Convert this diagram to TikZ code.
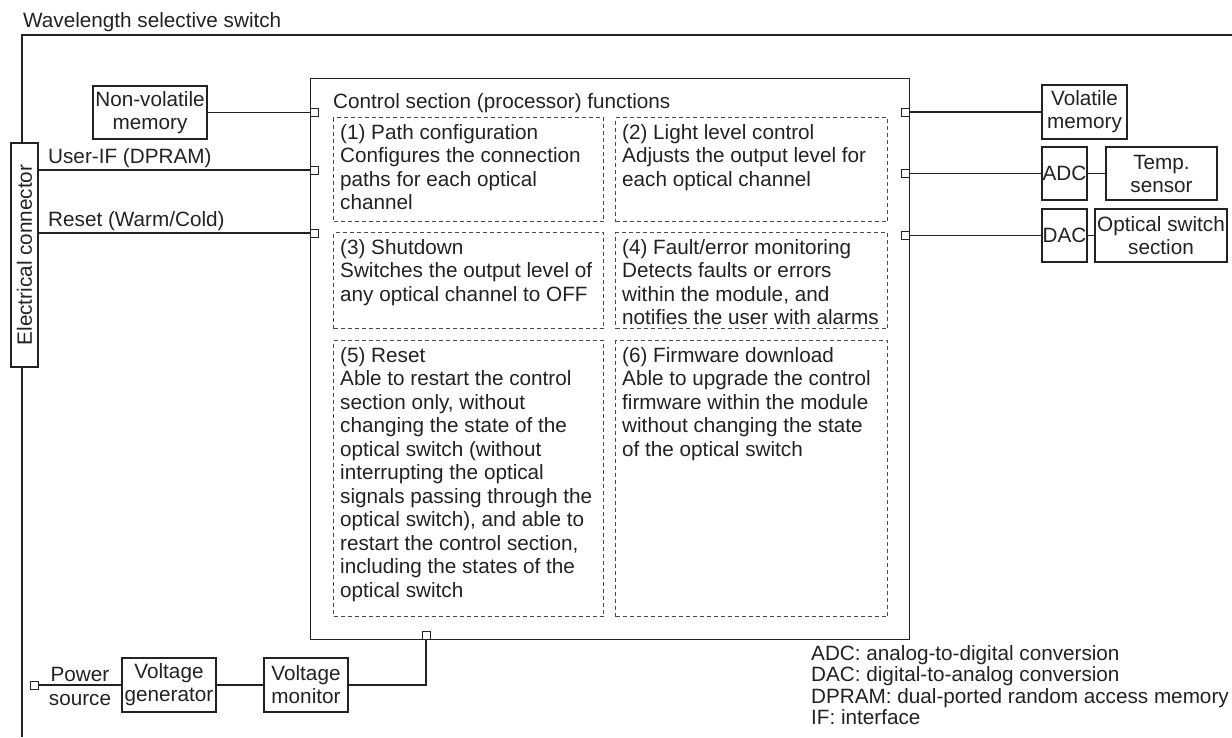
\documentclass[tikz,border=0pt]{standalone}
\usepackage{fontspec}
\setmainfont{Liberation Sans}
\definecolor{ink}{HTML}{222222}
\definecolor{dashink}{HTML}{4A4A4A}
\begin{document}
\begin{tikzpicture}[x=1pt,y=-1pt,
  every node/.style={font=\fontsize{20.7}{23.5}\selectfont, text=ink},
  wire/.style={draw=ink, line width=1.2pt},
  blk/.style={draw=ink, line width=1.2pt, fill=white, inner sep=0pt, align=center,
              font=\fontsize{20.7}{23}\selectfont},
  port/.style={draw=ink, line width=0.9pt, fill=white, minimum size=8pt, inner sep=0pt},
  fbox/.style={draw=dashink, line width=1pt, dash pattern=on 4pt off 3pt,
               inner sep=0pt, anchor=north west},
  ftext/.style={anchor=north west, inner sep=0pt, align=left,
                execute at begin node={\rule{0pt}{17pt}}},
  lbl/.style={anchor=base west, inner sep=0pt}
]
\useasboundingbox (0,0) rectangle (1232,737);

% outer module frame
\draw[wire] (1232,35) -- (22,35) -- (22,737);
\node[lbl] (title) at (23,27) {Wavelength selective switch};

% electrical connector
\node[blk, minimum width=27pt, minimum height=224pt] (conn) at (24.5,255) {};
\node[rotate=90, inner sep=0pt] (conntext) at (conn.center) {Electrical connector};

% non-volatile memory
\node[blk, minimum width=114pt, minimum height=53pt] (nvm) at (150,112.5) {Non-volatile\\memory};

% control section
\node[draw=ink, line width=1.2pt, minimum width=599pt, minimum height=561pt,
      inner sep=0pt, anchor=north west] (ctrl) at (310,78) {};
\node[lbl] (ctitle) at (333,108) {Control section (processor) functions};

% function boxes
\node[fbox, minimum width=270pt, minimum height=104pt] (f1) at (333,117) {};
\node[fbox, minimum width=272pt, minimum height=104pt] (f2) at (615,117) {};
\node[fbox, minimum width=270pt, minimum height=96pt]  (f3) at (333,232) {};
\node[fbox, minimum width=272pt, minimum height=96pt]  (f4) at (615,232) {};
\node[fbox, minimum width=270pt, minimum height=276pt] (f5) at (333,340) {};
\node[fbox, minimum width=272pt, minimum height=276pt] (f6) at (615,340) {};

\node[ftext] (t1) at ([shift={(7,7)}]f1.north west)
  {(1) Path configuration\\Configures the connection\\paths for each optical\\channel};
\node[ftext] (t2) at ([shift={(7,7)}]f2.north west)
  {(2) Light level control\\Adjusts the output level for\\each optical channel};
\node[ftext] (t3) at ([shift={(7,7)}]f3.north west)
  {(3) Shutdown\\Switches the output level of\\any optical channel to OFF};
\node[ftext] (t4) at ([shift={(7,7)}]f4.north west)
  {(4) Fault/error monitoring\\Detects faults or errors\\within the module, and\\notifies the user with alarms};
\node[ftext] (t5) at ([shift={(7,7)}]f5.north west)
  {(5) Reset\\Able to restart the control\\section only, without\\changing the state of the\\optical switch (without\\interrupting the optical\\signals passing through the\\optical switch), and able to\\restart the control section,\\including the states of the\\optical switch};
\node[ftext] (t6) at ([shift={(7,7)}]f6.north west)
  {(6) Firmware download\\Able to upgrade the control\\firmware within the module\\without changing the state\\of the optical switch};

% ports on the control section
\node[port] (pl1) at (314,112.5) {};
\node[port] (pl2) at (314,170) {};
\node[port] (pl3) at (314,233) {};
\node[port] (pr1) at (905,112) {};
\node[port] (pr2) at (905,173.5) {};
\node[port] (pr3) at (905,235.5) {};
\node[port] (pb)  at (426,635) {};

% left-hand signals
\draw[wire] (nvm.east) -- (pl1.west);
\draw[wire] (conn.east |- pl2.west) -- (pl2.west);
\draw[wire] (conn.east |- pl3.west) -- (pl3.west);
\node[lbl] (uif) at (48,163) {User-IF (DPRAM)};
\node[lbl] (rst) at (48,226) {Reset (Warm/Cold)};

% right-hand peripherals
\node[blk, minimum width=85pt, minimum height=54pt]  (vol)  at (1084.5,112)  {Volatile\\memory};
\node[blk, minimum width=45pt, minimum height=53pt]  (adc)  at (1064.5,173.5) {ADC};
\node[blk, minimum width=111pt, minimum height=53pt] (temp) at (1161.5,173.5) {Temp.\\sensor};
\node[blk, minimum width=45pt, minimum height=53pt]  (dac)  at (1064.5,235.5) {DAC};
\node[blk, minimum width=132pt, minimum height=53pt] (oss)  at (1161,235.5)   {Optical switch\\section};
\draw[wire] (pr1.east) -- (vol.west);
\draw[wire] (pr2.east) -- (adc.west);
\draw[wire] (pr3.east) -- (dac.west);
\draw[wire] (adc.east) -- (temp.west);
\draw[wire] (dac.east) -- (oss.west);

% power path
\node[port] (pps) at (34,685) {};
\node[blk, minimum width=94pt, minimum height=54pt] (vg) at (169,685) {Voltage\\generator};
\node[blk, minimum width=84pt, minimum height=54pt] (vm) at (306,685) {Voltage\\monitor};
\draw[wire] (pps.east) -- (vg.west);
\draw[wire] (vg.east) -- (vm.west);
\draw[wire] (vm.east) -| (pb.south);
\node[inner sep=0pt, align=center, font=\fontsize{20.7}{24}\selectfont] (pstext) at (80,686) {Power\\source};

% abbreviations
\node[lbl] (lg1) at (811,660)   {ADC: analog-to-digital conversion};
\node[lbl] (lg2) at (811,681.5) {DAC: digital-to-analog conversion};
\node[lbl] (lg3) at (811,703)   {DPRAM: dual-ported random access memory};
\node[lbl] (lg4) at (811,724.5) {IF: interface};
\end{tikzpicture}
\end{document}
